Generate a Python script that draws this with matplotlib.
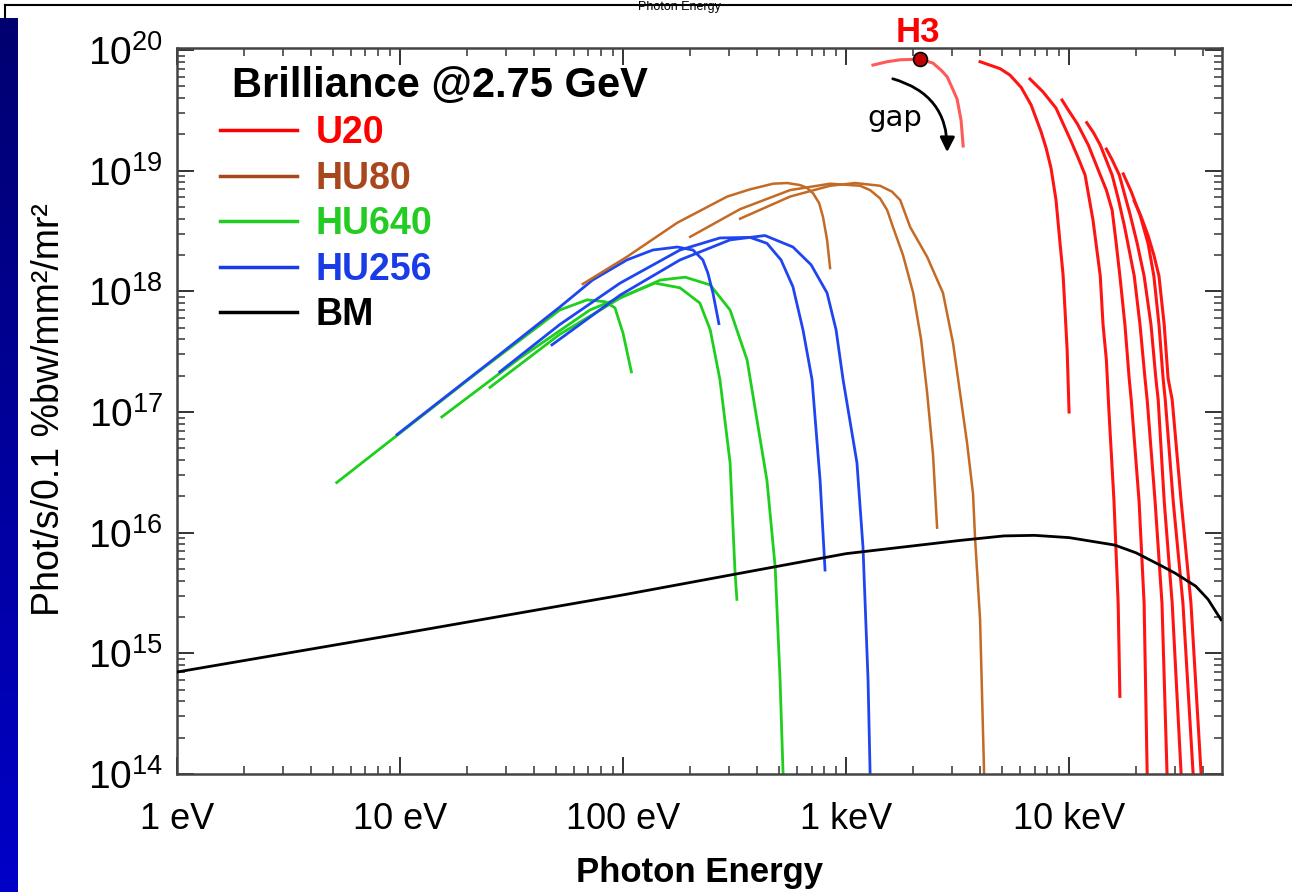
import numpy as np
import matplotlib.pyplot as plt
from matplotlib.lines import Line2D
from matplotlib.ticker import FixedLocator, FixedFormatter, LogLocator, NullFormatter
from matplotlib.colors import LinearSegmentedColormap

plt.rcParams['font.family'] = ['Liberation Sans', 'DejaVu Sans']
plt.rcParams['mathtext.default'] = 'regular'

# axis ticks
x_ticks = [1, 10, 100, 1000, 10000]
x_tick_labels = ['1 eV', '10 eV', '100 eV', '1 keV', '10 keV']
y_ticks = [1e14, 1e15, 1e16, 1e17, 1e18, 1e19, 1e20]
y_tick_labels = [r'$10^{14}$', r'$10^{15}$', r'$10^{16}$', r'$10^{17}$',
                 r'$10^{18}$', r'$10^{19}$', r'$10^{20}$']

# bending magnet (photon energy in eV, brilliance)
bm_energy = [1, 10, 100, 1000, 3200, 5100, 7000, 10000, 16000, 20000, 26000, 30000, 37000, 42000, 48000]
bm_brill = [7.0e14, 1.45e15, 3.05e15, 6.7e15, 8.6e15, 9.4e15, 9.5e15, 9.1e15, 7.9e15, 6.8e15,
            5.3e15, 4.6e15, 3.6e15, 2.8e15, 1.9e15]

# U20 harmonics (first one is H3)
u20_energy = [
    [1320, 1530, 1750, 2150, 2450, 2670, 2840, 3000, 3150, 3280, 3350],
    [3990, 4910, 5430, 6100, 6760, 7490, 7890, 8300, 8740, 9110, 9400, 9590, 9800, 10000],
    [6680, 7640, 8740, 10200, 11000, 11800, 12800, 13800, 14200, 14700, 15100, 15900, 16600, 16900],
    [9300, 9900, 10900, 12200, 13800, 14700, 15600, 16200, 16900, 17800, 18600, 19000, 20600, 21700, 22400],
    [12000, 12900, 13800, 15600, 16600, 17700, 18600, 19600, 20800, 21900, 22400, 24300, 26100, 27500],
    [14700, 15600, 16800, 18800, 20200, 21700, 23300, 24500, 25100, 26700, 29000, 31800],
    [17500, 19000, 20800, 22600, 24000, 25300, 26400, 27000, 29300, 32400, 36000],
    [19600, 21000, 22600, 24000, 25300, 26700, 27800, 29000, 31800, 35200, 39100],
]
u20_brill = [
    [7.5e19, 8.0e19, 8.3e19, 8.4e19, 7.8e19, 6.8e19, 6.0e19, 4.8e19, 3.9e19, 2.6e19, 1.6e19],
    [8.0e19, 7.0e19, 6.2e19, 4.9e19, 3.5e19, 2.1e19, 1.54e19, 1.05e19, 5.7e18, 2.5e18, 1.37e18,
     7.0e17, 3.3e17, 1.0e17],
    [5.75e19, 4.5e19, 3.3e19, 1.76e19, 1.27e19, 9.2e18, 3.9e18, 1.34e18, 5.3e17, 2.7e17, 1.0e17,
     1.83e16, 2.6e15, 4.4e14],
    [3.85e19, 3.2e19, 2.44e19, 1.63e19, 9.2e18, 6.9e18, 4.7e18, 2.67e18, 1.34e18, 5.3e17, 1.9e17,
     1.26e17, 1.83e16, 2.6e15, 1.0e14],
    [2.5e19, 2.05e19, 1.63e19, 9.2e18, 5.9e18, 3.5e18, 2.2e18, 1.34e18, 5.3e17, 1.9e17, 1.26e17,
     1.83e16, 2.6e15, 1.0e14],
    [1.51e19, 1.23e19, 9.2e18, 4.3e18, 2.5e18, 1.34e18, 5.3e17, 1.9e17, 1.26e17, 1.83e16, 2.6e15, 1.0e14],
    [9.4e18, 6.7e18, 4.3e18, 2.5e18, 1.34e18, 5.3e17, 1.9e17, 1.26e17, 1.83e16, 2.6e15, 1.0e14],
    [5.6e18, 4.2e18, 2.9e18, 2.0e18, 1.34e18, 5.3e17, 1.9e17, 1.26e17, 1.83e16, 2.6e15, 1.0e14],
]
h3_point = (2150, 8.4e19)

# HU80
hu80_energy = [
    [66, 104, 175, 293, 371, 471, 544, 622, 668, 711, 757, 789, 822, 848],
    [200, 335, 561, 848, 1155, 1282, 1420, 1530, 1624, 1800, 2000, 2170, 2310, 2455, 2560],
    [335, 561, 848, 1100, 1420, 1607, 1750, 1940, 2310, 2720, 3020, 3245, 3490, 3710, 3790, 3990, 4160],
]
hu80_brill = [
    [1.15e18, 1.93e18, 3.7e18, 6.1e18, 7.0e18, 7.8e18, 7.9e18, 7.6e18, 7.2e18, 6.5e18, 5.4e18,
     4.1e18, 2.67e18, 1.56e18],
    [2.83e18, 4.8e18, 6.9e18, 7.8e18, 7.5e18, 6.9e18, 5.9e18, 4.7e18, 3.4e18, 2.0e18, 9.7e17,
     4.0e17, 1.44e17, 4.4e16, 1.1e16],
    [4.0e18, 6.1e18, 7.5e18, 7.9e18, 7.5e18, 6.7e18, 5.7e18, 3.4e18, 1.93e18, 9.7e17, 3.7e17,
     1.44e17, 5.5e16, 2.1e16, 8.9e15, 1.9e15, 1.0e14],
]

# HU640
hu640_energy = [
    [5.2, 7.6, 22.8, 52, 69, 83, 92, 100, 109],
    [15.4, 34.5, 71, 139, 180, 221, 246, 272, 302, 318, 324],
    [25.3, 52, 97, 147, 190, 246, 302, 360, 442, 481, 506, 522],
]
hu640_brill = [
    [2.6e16, 4.5e16, 2.2e17, 7.0e17, 8.5e17, 8.2e17, 7.3e17, 4.5e17, 2.15e17],
    [9.1e16, 2.8e17, 7.0e17, 1.17e18, 1.07e18, 8.0e17, 4.8e17, 1.85e17, 3.8e16, 4.6e15, 2.8e15],
    [1.6e17, 4.4e17, 8.8e17, 1.24e18, 1.31e18, 1.13e18, 7.0e17, 2.7e17, 2.7e16, 5.2e15, 6.0e14, 1.0e14],
]

# HU256
hu256_energy = [
    [9.7, 28, 52, 73, 104, 136, 175, 206, 228, 240, 253, 269],
    [28, 52, 97, 180, 272, 371, 442, 511, 578, 641, 704, 765, 805],
    [48, 97, 180, 302, 433, 578, 697, 822, 902, 970, 1119, 1191, 1255, 1282],
]
hu256_brill = [
    [6.5e16, 3.0e17, 7.4e17, 1.24e18, 1.82e18, 2.2e18, 2.33e18, 2.2e18, 1.82e18, 1.42e18, 9.7e17, 5.4e17],
    [2.15e17, 5.3e17, 1.17e18, 2.2e18, 2.77e18, 2.8e18, 2.5e18, 1.82e18, 1.09e18, 4.8e17, 1.85e17,
     2.7e16, 4.9e15],
    [3.6e17, 9.3e17, 1.82e18, 2.67e18, 2.9e18, 2.33e18, 1.66e18, 9.7e17, 4.8e17, 1.85e17, 3.8e16,
     7.6e15, 6.0e14, 1.0e14],
]

legend_names = ['U20', 'HU80', 'HU640', 'HU256', 'BM']
legend_colors = ['#ff0000', '#a8461c', '#22cc22', '#1a3ce6', '#000000']

c_red, c_h3, c_brown, c_green, c_blue = '#ff1414', '#ff5a5a', '#c46a24', '#1ecf1e', '#1f45f0'

fig = plt.figure(figsize=(12.92, 8.92), dpi=100)
ax = fig.add_axes([177 / 1292, 118 / 892, 1045 / 1292, 726.3 / 892])

ax.plot(bm_energy, bm_brill, color='black', lw=2.0, zorder=3)
for e, b in zip(hu640_energy, hu640_brill):
    ax.plot(e, b, color=c_green, lw=2.0)
for e, b in zip(hu256_energy, hu256_brill):
    ax.plot(e, b, color=c_blue, lw=2.0)
for e, b in zip(hu80_energy, hu80_brill):
    ax.plot(e, b, color=c_brown, lw=1.8)
for i, (e, b) in enumerate(zip(u20_energy, u20_brill)):
    ax.plot(e, b, color=c_h3 if i == 0 else c_red, lw=2.2)
ax.plot(*h3_point, 'o', ms=10, mfc='#c00000', mec='black', mew=1.2, zorder=5, clip_on=False)

ax.set_xscale('log')
ax.set_yscale('log')
ax.set_xlim(1, 48500)
ax.set_ylim(1e14, 1.045e20)

ax.xaxis.set_major_locator(FixedLocator(x_ticks))
ax.xaxis.set_major_formatter(FixedFormatter(x_tick_labels))
ax.yaxis.set_major_locator(FixedLocator(y_ticks))
ax.yaxis.set_major_formatter(FixedFormatter(y_tick_labels))
for axis in (ax.xaxis, ax.yaxis):
    axis.set_minor_locator(LogLocator(base=10, subs=np.arange(2, 10), numticks=50))
    axis.set_minor_formatter(NullFormatter())

ax.tick_params(which='both', direction='in', top=True, right=True, colors='#333333',
               labelcolor='black')
ax.tick_params(which='major', length=12, width=1.4)
ax.tick_params(which='minor', length=6, width=1.1)
ax.tick_params(axis='x', pad=20, labelsize=26)
ax.tick_params(axis='y', pad=10, labelsize=28)
for s in ax.spines.values():
    s.set_color('#444444')
    s.set_linewidth(1.8)

ax.set_xlabel('Photon Energy', fontsize=25, fontweight='bold', labelpad=14)
fig.text(49 / 1292, 1 - 410 / 892, 'Phot/s/0.1 %bw/mm²/mr²', rotation=90,
         ha='center', va='center', fontsize=27)

ax.text(0.0526, 0.947, 'Brilliance @2.75 GeV', transform=ax.transAxes, fontsize=30,
        fontweight='bold', ha='left', va='center')

handles = [Line2D([], [], color=c, lw=2.5) for c in legend_colors]
ax.legend(handles, legend_names, loc='upper left', bbox_to_anchor=(0.041, 0.907),
          frameon=False, borderpad=0, borderaxespad=0, handlelength=2.05,
          handletextpad=0.5, labelspacing=0.255, labelcolor=legend_colors,
          prop={'weight': 'bold', 'size': 27})

# H3 marker label and gap arrow
ax.text(2104, 1.41e20, 'H3', color='#ff0000', fontsize=25, fontweight='bold',
        ha='center', va='center', clip_on=False)
ax.text(1660, 2.73e19, 'gap', fontsize=21, ha='center', va='center',
        family=['DejaVu Sans'])
ax.annotate('', xy=(2837, 1.35e19), xytext=(1575, 5.86e19),
            arrowprops=dict(arrowstyle='-|>', color='black', lw=2,
                            mutation_scale=22, connectionstyle='arc3,rad=-0.4'))

# slide remnants: left blue strip, top rule and heading fragment
strip = fig.add_axes([0, 0, 18 / 1292, 874 / 892])
cmap = LinearSegmentedColormap.from_list('strip', ['#000070', '#0000c8'])
strip.imshow(np.linspace(0, 1, 100).reshape(-1, 1), aspect='auto', cmap=cmap)
strip.axis('off')
fig.add_artist(Line2D([5 / 1292, 1], [1 - 5 / 892, 1 - 5 / 892], color='black', lw=1.5))
fig.add_artist(Line2D([5 / 1292, 5 / 1292], [1 - 5 / 892, 1 - 18 / 892], color='black', lw=1.5))
fig.text(679 / 1292, 1 - 1 / 892, 'Photon Energy', ha='center', va='top', fontsize=9)

fig.savefig('out.png', dpi=100)
